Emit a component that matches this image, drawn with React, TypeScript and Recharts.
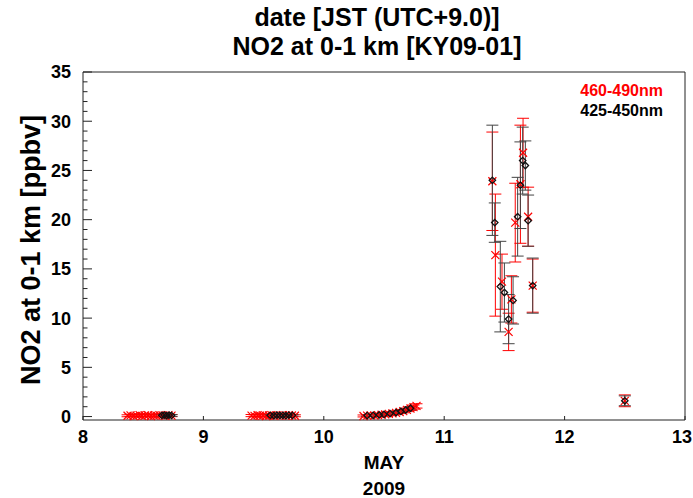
import React from 'react';
import { ScatterChart, Scatter, XAxis, YAxis, ErrorBar } from 'recharts';

const FONT = '"Liberation Sans", Arial, Helvetica, sans-serif';
const RED = '#ff0000';
const BLACK = '#111111';
const AXIS = '#222222';

// 460-490nm retrieval: day of May 2009 (JST), NO2 [ppbv], error [ppbv]
const redDay = [
  8.37, 8.395, 8.42, 8.445, 8.47, 8.49, 8.515, 8.54, 8.565, 8.59, 8.61, 8.635, 8.66, 8.685, 8.71, 8.735,
  9.4, 9.425, 9.45, 9.47, 9.495, 9.52, 9.545, 9.565, 9.59, 9.615, 9.64, 9.66, 9.685, 9.71, 9.735, 9.76,
  10.33, 10.36, 10.39, 10.42, 10.45, 10.48, 10.51, 10.54, 10.57, 10.6, 10.63, 10.66, 10.69, 10.72, 10.745, 10.77,
  11.4, 11.425, 11.48, 11.535, 11.558, 11.59, 11.633, 11.655, 11.697, 11.735,
  12.5,
];
const redNo2 = [
  0.08, 0.12, 0.05, 0.1, 0.14, 0.07, 0.11, 0.13, 0.06, 0.1, 0.09, 0.15, 0.12, 0.08, 0.14, 0.1,
  0.1, 0.07, 0.13, 0.09, 0.12, 0.06, 0.11, 0.14, 0.08, 0.12, 0.1, 0.15, 0.09, 0.13, 0.11, 0.08,
  0.06, 0.09, 0.12, 0.1, 0.14, 0.18, 0.22, 0.27, 0.33, 0.38, 0.46, 0.55, 0.68, 0.82, 0.96, 1.08,
  23.9, 16.4, 13.7, 8.6, 11.9, 19.7, 23.6, 26.8, 20.3, 13.3,
  1.6,
];
const redErr = [
  0.1, 0.12, 0.09, 0.11, 0.13, 0.1, 0.12, 0.11, 0.09, 0.1, 0.12, 0.13, 0.11, 0.1, 0.12, 0.11,
  0.11, 0.1, 0.12, 0.09, 0.13, 0.1, 0.11, 0.12, 0.1, 0.13, 0.11, 0.12, 0.1, 0.11, 0.12, 0.1,
  0.1, 0.11, 0.12, 0.1, 0.13, 0.12, 0.14, 0.13, 0.15, 0.14, 0.16, 0.17, 0.18, 0.2, 0.21, 0.22,
  5.0, 6.2, 2.8, 1.9, 2.4, 4.0, 6.0, 3.5, 3.0, 2.7,
  0.6,
];

// 425-450nm retrieval
const blackDay = [
  8.655, 8.675, 8.695, 8.715, 8.735,
  9.555, 9.585, 9.61, 9.635, 9.66, 9.685, 9.71, 9.74,
  10.36, 10.41, 10.46, 10.5, 10.55, 10.6, 10.64, 10.68, 10.72,
  11.4, 11.42, 11.466, 11.5, 11.535, 11.572, 11.61, 11.633, 11.652, 11.674, 11.697, 11.735,
  12.5,
];
const blackNo2 = [
  0.12, 0.15, 0.1, 0.14, 0.11,
  0.12, 0.1, 0.14, 0.11, 0.13, 0.09, 0.15, 0.12,
  0.1, 0.13, 0.17, 0.22, 0.3, 0.4, 0.52, 0.66, 0.85,
  24.0, 19.7, 13.2, 12.6, 9.9, 11.8, 20.3, 23.5, 26.0, 25.5, 19.9, 13.3,
  1.6,
];
const blackErr = [
  0.08, 0.09, 0.08, 0.1, 0.09,
  0.09, 0.08, 0.1, 0.09, 0.08, 0.1, 0.09, 0.08,
  0.08, 0.09, 0.1, 0.1, 0.11, 0.12, 0.13, 0.14, 0.16,
  5.6, 2.0, 4.6, 3.0, 2.5, 2.4, 4.0, 4.4, 3.4, 2.5, 2.6, 2.8,
  0.5,
];

const dayTicks = [8, 9, 10, 11, 12, 13];
const no2Ticks = Array.from({ length: 36 }, (_, i) => i);

const toRows = (day: number[], no2: number[], err: number[]) =>
  day.map((d, i) => ({ day: d, no2: no2[i], err: err[i] }));

const redRows = toRows(redDay, redNo2, redErr);
const blackRows = toRows(blackDay, blackNo2, blackErr);

const LEFT_GAP = 12;
const BOTTOM_GAP = 8;

const labelStyle = { fontFamily: FONT, fontWeight: 700, fill: '#000' };

// left axis: labels every 5, inward ticks every 1
const LeftTick = (props: any) => {
  const { x, y, payload } = props;
  const major = payload.value % 5 === 0;
  const ax = x + LEFT_GAP;
  return (
    <g>
      <line x1={ax} x2={ax + (major ? 9 : 4.5)} y1={y} y2={y} stroke={AXIS} />
      {major && (
        <text x={x} y={y} dy="0.36em" textAnchor="end" fontSize={18} {...labelStyle}>
          {payload.value}
        </text>
      )}
    </g>
  );
};

const RightTick = (props: any) => {
  const { x, y, payload } = props;
  const major = payload.value % 5 === 0;
  return <line x1={x} x2={x - (major ? 9 : 4.5)} y1={y} y2={y} stroke={AXIS} />;
};

const BottomTick = (props: any) => {
  const { x, y, payload } = props;
  const ay = y - BOTTOM_GAP;
  // keep the last label inside the canvas
  const tx = payload.value === 13 ? x - 3 : x;
  return (
    <g>
      <line x1={x} x2={x} y1={ay} y2={ay - 4} stroke={AXIS} />
      <text x={tx} y={ay + 23} textAnchor="middle" fontSize={18} {...labelStyle}>
        {payload.value}
      </text>
    </g>
  );
};

const TopTick = (props: any) => {
  const { x, y } = props;
  return <line x1={x} x2={x} y1={y} y2={y + 4} stroke={AXIS} />;
};

const Cross = (props: any) => {
  const { cx, cy } = props;
  const r = 4;
  return (
    <path
      d={`M${cx - r},${cy - r}L${cx + r},${cy + r}M${cx - r},${cy + r}L${cx + r},${cy - r}`}
      stroke={RED}
      strokeWidth={1.2}
      fill="none"
    />
  );
};

const Diamond = (props: any) => {
  const { cx, cy } = props;
  const r = 3.2;
  return (
    <path
      d={`M${cx},${cy - r}L${cx + r},${cy}L${cx},${cy + r}L${cx - r},${cy}Z`}
      stroke={BLACK}
      strokeWidth={1.3}
      fill="none"
    />
  );
};

export default function App() {
  return (
    <div style={{ position: 'absolute', left: 0, top: 0, width: 693, height: 498, background: '#fff', fontFamily: FONT }}>
      <ScatterChart width={693} height={498} margin={{ top: 71, right: 0, bottom: 48, left: 0 }}>
        <XAxis
          xAxisId="bottom"
          dataKey="day"
          type="number"
          domain={[8, 13]}
          ticks={dayTicks}
          interval={0}
          height={30}
          tickSize={0}
          tickMargin={BOTTOM_GAP}
          tickLine={false}
          tick={<BottomTick />}
          axisLine={{ stroke: AXIS }}
        />
        <XAxis
          xAxisId="top"
          orientation="top"
          type="number"
          domain={[8, 13]}
          ticks={dayTicks}
          interval={0}
          height={1}
          tickSize={0}
          tickMargin={0}
          tickLine={false}
          tick={<TopTick />}
          axisLine={{ stroke: AXIS }}
        />
        <YAxis
          yAxisId="left"
          dataKey="no2"
          type="number"
          domain={[-0.35, 35]}
          ticks={no2Ticks}
          interval={0}
          width={83}
          tickSize={0}
          tickMargin={LEFT_GAP}
          tickLine={false}
          tick={<LeftTick />}
          axisLine={{ stroke: AXIS }}
        />
        <YAxis
          yAxisId="right"
          orientation="right"
          type="number"
          domain={[-0.35, 35]}
          ticks={no2Ticks}
          interval={0}
          width={8}
          tickSize={0}
          tickMargin={0}
          tickLine={false}
          tick={<RightTick />}
          axisLine={{ stroke: AXIS }}
        />
        <Scatter
          name="460-490nm"
          data={redRows}
          xAxisId="bottom"
          yAxisId="left"
          shape={<Cross />}
          isAnimationActive={false}
        >
          <ErrorBar dataKey="err" direction="y" width={6} stroke={RED} strokeWidth={1} isAnimationActive={false} />
        </Scatter>
        <Scatter
          name="425-450nm"
          data={blackRows}
          xAxisId="bottom"
          yAxisId="left"
          shape={<Diamond />}
          isAnimationActive={false}
        >
          <ErrorBar dataKey="err" direction="y" width={6} stroke="#444" strokeWidth={1} isAnimationActive={false} />
        </Scatter>
      </ScatterChart>

      {/* title, two lines */}
      <div style={{ position: 'absolute', left: 77, top: 3, width: 600, textAlign: 'center', fontSize: 25, fontWeight: 700, lineHeight: '29px', color: '#000' }}>
        <div>date [JST (UTC+9.0)]</div>
        <div>NO2 at 0-1 km [KY09-01]</div>
      </div>

      {/* legend */}
      <div style={{ position: 'absolute', right: 30, top: 81, textAlign: 'right', fontSize: 16, fontWeight: 700, lineHeight: '20px' }}>
        <div style={{ color: RED }}>460-490nm</div>
        <div style={{ color: '#000' }}>425-450nm</div>
      </div>

      {/* y axis title */}
      <div style={{ position: 'absolute', left: 31 - 170, top: 250 - 17, width: 340, height: 34, lineHeight: '34px', textAlign: 'center', fontSize: 27, fontWeight: 700, transform: 'rotate(-90deg)' }}>
        NO2 at 0-1 km [ppbv]
      </div>

      {/* x axis title */}
      <div style={{ position: 'absolute', left: 83, top: 450, width: 602, textAlign: 'center', fontSize: 19, fontWeight: 700, lineHeight: '26px' }}>
        <div>MAY</div>
        <div>2009</div>
      </div>
    </div>
  );
}
